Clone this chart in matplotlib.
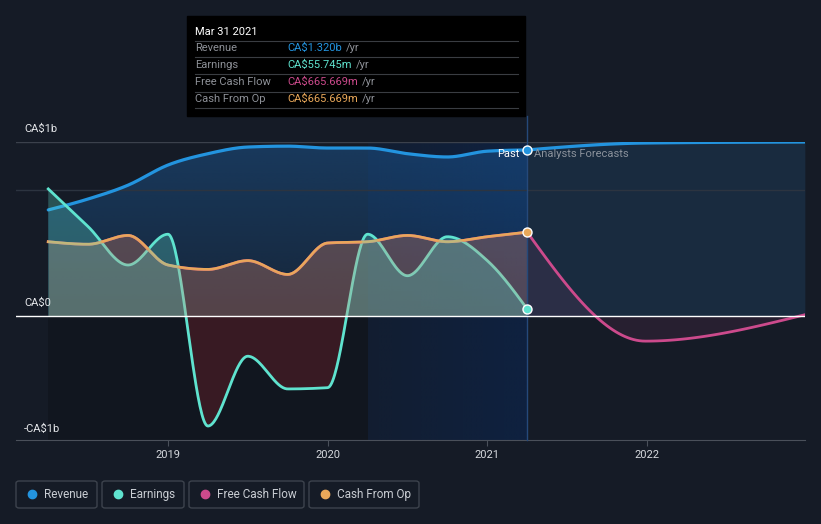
import numpy as np
import matplotlib.pyplot as plt
from matplotlib.patches import Rectangle, FancyBboxPatch
from matplotlib.lines import Line2D

plt.rcParams['font.family'] = ['Roboto', 'DejaVu Sans']

# ---------- DATA (CA$ billions) ----------
past_t = [2018.25, 2018.5, 2018.75, 2019.0, 2019.25, 2019.5, 2019.75,
          2020.0, 2020.25, 2020.5, 2020.75, 2021.0, 2021.25]
revenue_past = [0.843, 0.93, 1.04, 1.20, 1.29, 1.343, 1.35,
                1.335, 1.335, 1.29, 1.264, 1.31, 1.32]
earnings_past = [1.01, 0.71, 0.405, 0.65, -0.875, -0.32, -0.58,
                 -0.57, 0.65, 0.32, 0.63, 0.44, 0.0557]
cfo_past = [0.59, 0.57, 0.64, 0.405, 0.37, 0.44, 0.33,
            0.58, 0.59, 0.64, 0.59, 0.63, 0.666]
fcf_past = cfo_past

fc_t = [2021.25, 2021.99, 2022.99]
revenue_fc = [1.32, 1.375, 1.383]
fcf_fc = [0.666, -0.2, 0.01]

x_ticks = [2019, 2020, 2021, 2022]
y_labels = ["CA\\$1b", "CA\\$0", "-CA\\$1b"]

BG = '#151b26'
C_REV = '#2394df'
C_EARN = '#5fe3cf'
C_FCF = '#cc4a8c'
C_CFO = '#e9a85a'

W_PX, H_PX = 821, 524


def px(x, y):
    return x / W_PX, 1 - y / H_PX


def smooth(x, y, n=40):
    # monotone cubic (like d3 curveMonotoneX)
    x = np.asarray(x, float)
    y = np.asarray(y, float)
    h = np.diff(x)
    s = np.diff(y) / h
    m = np.zeros_like(y)
    for i in range(1, len(y) - 1):
        p = (s[i - 1] * h[i] + s[i] * h[i - 1]) / (h[i - 1] + h[i])
        m[i] = (np.sign(s[i - 1]) + np.sign(s[i])) * min(abs(s[i - 1]), abs(s[i]), 0.5 * abs(p))
    m[0] = (3 * s[0] - m[1]) / 2
    m[-1] = (3 * s[-1] - m[-2]) / 2
    xs, ys = [], []
    for i in range(len(h)):
        u = np.linspace(0, 1, n, endpoint=(i == len(h) - 1))
        h00 = 2 * u**3 - 3 * u**2 + 1
        h10 = u**3 - 2 * u**2 + u
        h01 = -2 * u**3 + 3 * u**2
        h11 = u**3 - u**2
        xs.append(x[i] + u * h[i])
        ys.append(h00 * y[i] + h10 * h[i] * m[i] + h01 * y[i + 1] + h11 * h[i] * m[i + 1])
    return np.concatenate(xs), np.concatenate(ys)


fig = plt.figure(figsize=(8.21, 5.24), dpi=100, facecolor=BG)
l, b = px(16, 440)
r, t = px(805, 142)
ax = fig.add_axes([l, b, r - l, t - b])
ax.set_facecolor(BG)
XMIN, XMAX = 2018.048, 2022.99
YMIN, YMAX = -0.986, 1.383
ax.set_xlim(XMIN, XMAX)
ax.set_ylim(YMIN, YMAX)
for sp in ['top', 'right', 'left']:
    ax.spines[sp].set_visible(False)
ax.spines['bottom'].set_color('#4a505a')
ax.set_yticks([])
ax.set_xticks(x_ticks)
ax.set_xticklabels([str(v) for v in x_ticks])
ax.tick_params(axis='x', colors='#4a505a', labelcolor='#d6d9de', length=4,
               labelsize=8, pad=3)

now = past_t[-1]

# background regions
ax.add_patch(Rectangle((past_t[0], YMIN), 2020.25 - past_t[0], -YMIN,
                       color='#0c1016', alpha=0.4, lw=0, zorder=0))
grad = np.linspace(0.25, 0.6, 256).reshape(1, -1)
band = np.zeros((1, 256, 4))
band[..., :3] = np.array([11, 38, 82]) / 255
band[..., 3] = grad
ax.imshow(band, extent=(2020.25, now, YMIN, YMAX), aspect='auto', zorder=0.5,
          interpolation='bilinear')
ax.add_patch(Rectangle((now, 0), XMAX - now, YMAX, color='#1c2c3e', alpha=0.55,
                       lw=0, zorder=0.4))

# revenue gradient fill
rx, ry = smooth(past_t, revenue_past)
fx, fy = smooth(fc_t, revenue_fc)
poly = ax.fill_between(rx, ry, 0, color='none', lw=0)
g = np.zeros((256, 1, 4))
g[..., :3] = np.array([30, 100, 170]) / 255
g[..., 3] = np.linspace(0.15, 0.42, 256).reshape(-1, 1)
im = ax.imshow(g, extent=(past_t[0], now, 0, YMAX), aspect='auto', origin='lower',
               zorder=1, interpolation='bilinear')
im.set_clip_path(poly.get_paths()[0], transform=ax.transData)
ax.fill_between(fx, fy, 0, color='#1d3a56', alpha=0.35, lw=0, zorder=1)

# grid lines
ax.axhline(YMAX, color='#3b414c', lw=1, zorder=1.5)
ax.axhline(1.0, color='#2c3440', lw=1, zorder=1.5)

# lines (fills are laid over them, as in the original)
ex, ey = smooth(past_t, earnings_past)
cx, cy = smooth(past_t, cfo_past)
px_f, py_f = smooth(fc_t, fcf_fc)
ax.plot(rx, ry, color=C_REV, lw=2.3, zorder=2, solid_capstyle='round')
ax.plot(fx, fy, color=C_REV, lw=2.3, zorder=2, solid_capstyle='round')
ax.plot(ex, ey, color=C_EARN, lw=2, zorder=2)
ax.plot(cx, cy, color=C_FCF, lw=2, zorder=2)
ax.plot(cx, cy, color=C_CFO, lw=2, zorder=2)
ax.plot(px_f, py_f, color=C_FCF, lw=2, zorder=2)

# series fills
ax.fill_between(cx, cy, 0, color=C_FCF, alpha=0.14, lw=0, zorder=3)
ax.fill_between(cx, cy, 0, color=C_CFO, alpha=0.2, lw=0, zorder=3)
ax.fill_between(ex, ey, 0, where=ey >= 0, interpolate=True, color=C_EARN,
                alpha=0.28, lw=0, zorder=3)
ax.fill_between(ex, ey, 0, where=ey <= 0, interpolate=True, color='#5a1e28',
                alpha=0.55, lw=0, zorder=1.8)
ax.fill_between(px_f, py_f, 0, color=C_FCF, alpha=0.1, lw=0, zorder=1.8)

ax.axhline(0, color='white', lw=1, zorder=3.5)

# now line and markers
ax.plot([now, now], [YMIN, (316 - 116) / 125.8], color='#25497a', lw=1,
        zorder=3, clip_on=False)
for val, col in [(revenue_past[-1], C_REV), (earnings_past[-1], C_EARN),
                 (cfo_past[-1], C_CFO)]:
    ax.plot([now], [val], 'o', ms=6.5, color=col, mec='white', mew=1, zorder=6)

ax.text(now - 0.05, 1.29, "Past", color='white', fontsize=8, ha='right',
        va='center', zorder=7)
ax.text(now + 0.045, 1.29, "Analysts Forecasts", color='#8a919b', fontsize=8,
        ha='left', va='center', zorder=7)

# y labels
for lab, y in zip(y_labels, [129, 303, 429]):
    fig.text(*px(24, y), lab, color='#e6e8eb', fontsize=8, ha='left', va='center')

# tooltip
x0, y0 = px(187, 116)
fig.add_artist(Rectangle((x0, y0), 338 / W_PX, 100 / H_PX, transform=fig.transFigure,
                         color='black', zorder=10))
fig.text(*px(195, 32), "Mar 31 2021", color='white', fontsize=8, ha='left',
         va='center', zorder=11)
for ly in [41, 57, 74, 92, 108]:
    fig.add_artist(Line2D([195 / W_PX, 518 / W_PX], [1 - ly / H_PX] * 2,
                          transform=fig.transFigure, color='#3a3d42', lw=0.8,
                          zorder=11))
rows = [("Revenue", "CA\\$1.320b", C_REV), ("Earnings", "CA\\$55.745m", C_EARN),
        ("Free Cash Flow", "CA\\$665.669m", C_FCF),
        ("Cash From Op", "CA\\$665.669m", C_CFO)]
for (name, val, col), ry_ in zip(rows, [48, 65, 82, 99]):
    fig.text(*px(195, ry_), name, color='#8d9097', fontsize=8, ha='left',
             va='center', zorder=11)
    tv = fig.text(*px(287, ry_), val, color=col, fontsize=8, ha='left',
                  va='center', zorder=11)
    fig.add_artist(plt.Annotation("/yr", xy=(1, 0.5), xycoords=tv, xytext=(3, 0),
                                  textcoords='offset points', color='#8d9097',
                                  fontsize=8, va='center', ha='left', zorder=11))

# legend
legend = [("Revenue", C_REV, 16, 97), ("Earnings", C_EARN, 102, 184),
          ("Free Cash Flow", C_FCF, 189, 304), ("Cash From Op", C_CFO, 309, 419)]
for name, col, xa, xb in legend:
    bx, by = px(xa, 508)
    fig.add_artist(FancyBboxPatch((bx, by), (xb - xa) / W_PX, 27 / H_PX,
                                  boxstyle='round,pad=0,rounding_size=0.004',
                                  transform=fig.transFigure, fc='none',
                                  ec='#3d434d', lw=1))
    fig.add_artist(Line2D([(xa + 16) / W_PX], [1 - 494 / H_PX], marker='o', ms=6,
                          color=col, transform=fig.transFigure, lw=0))
    fig.text(*px(xa + 28, 494.5), name, color='#c9cdd3', fontsize=8.5, ha='left',
             va='center')

fig.savefig('out.png', dpi=100, facecolor=BG)
